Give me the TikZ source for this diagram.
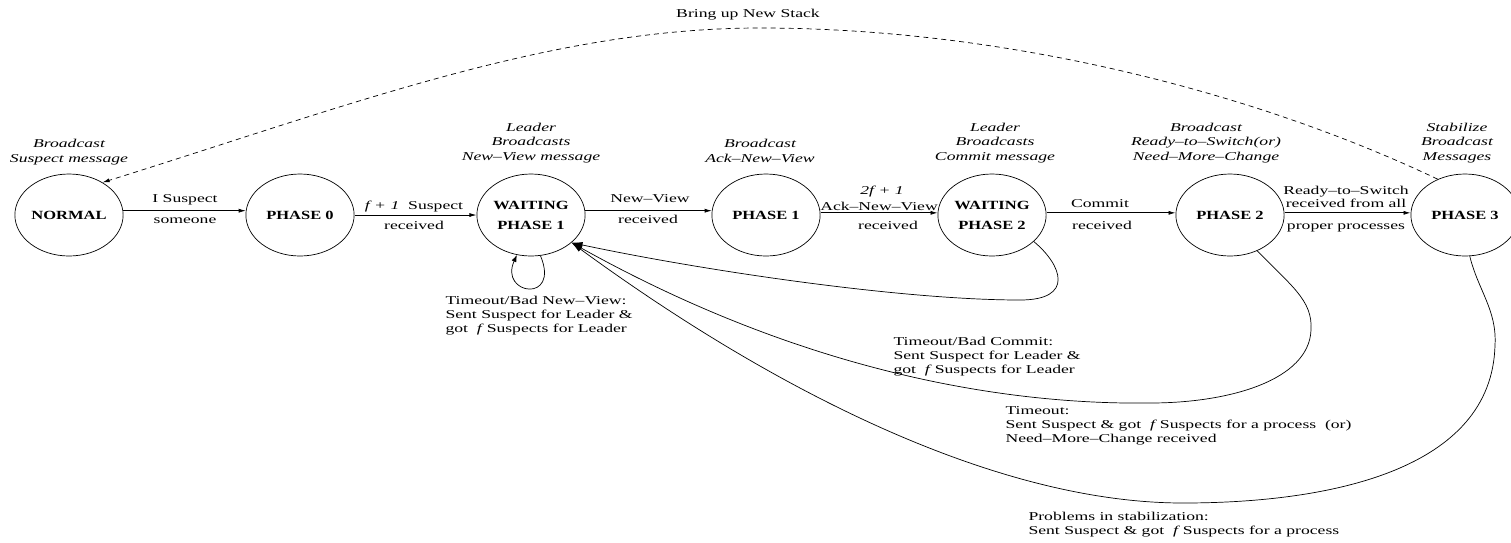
\documentclass[tikz,border=0pt]{standalone}
\usepackage{fontspec}
\setmainfont{Liberation Serif}
\usetikzlibrary{arrows.meta}
\begin{document}
\begin{tikzpicture}[x=1pt,y=-1pt,
  line width=0.7pt,
  state/.style={circle, draw, minimum size=82pt, inner sep=0pt, xscale=1.32, align=center, font=\bfseries\fontsize{12.5}{20}\selectfont},
  note/.style={xscale=1.47, inner sep=0pt, align=center, anchor=south, font=\itshape\fontsize{12}{14.5}\selectfont},
  lab/.style={xscale=1.47, inner sep=0pt, anchor=base, font=\fontsize{12}{14}\selectfont},
  lbl/.style={xscale=1.47, inner sep=0pt, align=left, anchor=north west, font=\fontsize{12}{14}\selectfont},
  tr/.style={-{Latex[length=7pt,width=4pt]}},
  back/.style={-{Latex[length=11pt,width=6pt]}},
]
\useasboundingbox (0,0) rectangle (1511,542);

% states
\node[state] (normal) at (69,215) {NORMAL};
\node[state] (p0) at (300,215) {PHASE 0};
\node[state] (wp1) at (531,215) {WAITING\\PHASE 1};
\node[state] (p1) at (766,215) {PHASE 1};
\node[state] (wp2) at (992,215) {WAITING\\PHASE 2};
\node[state] (p2) at (1230,215) {PHASE 2};
\node[state] (p3) at (1465,215) {PHASE 3};

% actions above states
\node[note] (anormal) at (69,165) {Broadcast\\Suspect message};
\node[note] (awp1) at (531,163) {Leader\\Broadcasts\\New--View message};
\node[note] (ap1) at (760,163) {Broadcast\\Ack--New--View};
\node[note] (awp2) at (995,163) {Leader\\Broadcasts\\Commit message};
\node[note] (ap2) at (1206,163) {Broadcast\\Ready--to--Switch(or)\\Need--More--Change};
\node[note] (ap3) at (1457,163) {Stabilize\\Broadcast\\Messages};

% forward transitions
\draw[tr] (normal.6) -- (p0.174);
\node[lab] (t1a) at (185,202) {I Suspect};
\node[lab] (t1b) at (185,223) {someone};

\draw[tr] (p0.0) -- (wp1.180);
\node[lab] (t2a) at (414,209) {\textit{f + 1}\ \ Suspect};
\node[lab] (t2b) at (414,229) {received};

\draw[tr] (wp1.6) -- (p1.174);
\node[lab] (t3a) at (650,202) {New--View};
\node[lab] (t3b) at (648,223) {received};

\draw[tr] (p1.3) -- (wp2.177);
\node[lab] (t4a) at (882,194) {\textit{2f + 1}};
\node[lab] (t4b) at (879,210) {Ack--New--View};
\node[lab] (t4c) at (888,229) {received};

\draw[tr] (wp2.3) -- (p2.177);
\node[lab] (t5a) at (1100,207) {Commit};
\node[lab] (t5b) at (1102,229) {received};

\draw[tr] (p2.3) -- (p3.177);
\node[lab] (t6a) at (1346,194) {Ready--to--Switch};
\node[lab] (t6b) at (1346,207) {received from all};
\node[lab] (t6c) at (1346,229) {proper processes};

% bring up new stack
\draw[tr, dash pattern=on 5pt off 4pt] (p3.120) .. controls (1250,90) and (1000,28) .. (760,28)
  .. controls (550,28) and (350,105) .. (normal.52);
\node[lab] (bring) at (748,17) {Bring up New Stack};

% self loop
\draw[-{Latex[length=7pt,width=5pt]}] (wp1.-80) .. controls +(20,48) and +(-18,40) .. (wp1.-105);
\node[lbl] (lloop) at (445,296) {Timeout/Bad New--View:\\Sent Suspect for Leader \&\\got \ \textit{f}\,Suspects for Leader};

% back transitions
\draw[back] (wp2.-40) .. controls (1062,265) and (1075,300) .. (1020,300)
  .. controls (900,300) and (700,270) .. (wp1.-42);
\node[lbl] (lwp2) at (893,337) {Timeout/Bad Commit:\\Sent Suspect for Leader \&\\got \ \textit{f}\,Suspects for Leader};

\draw[back] (p2.-60) .. controls (1290,285) and (1313,300) .. (1311,330)
  .. controls (1309,380) and (1230,403) .. (1150,403)
  .. controls (1000,405) and (800,370) .. (wp1.-42);
\node[lbl] (lp2) at (1005,406) {Timeout:\\Sent Suspect \& got \ \textit{f}\,Suspects for a process \ (or)\\Need--More--Change received};

\draw[back] (p3.-85) .. controls (1478,290) and (1497,310) .. (1495,345)
  .. controls (1492,470) and (1330,503) .. (1183,503)
  .. controls (1000,503) and (780,395) .. (wp1.-42);
\node[lbl] (lp3) at (1028,512) {Problems in stabilization:\\Sent Suspect \& got \ \textit{f}\,Suspects for a process};
\end{tikzpicture}
\end{document}
